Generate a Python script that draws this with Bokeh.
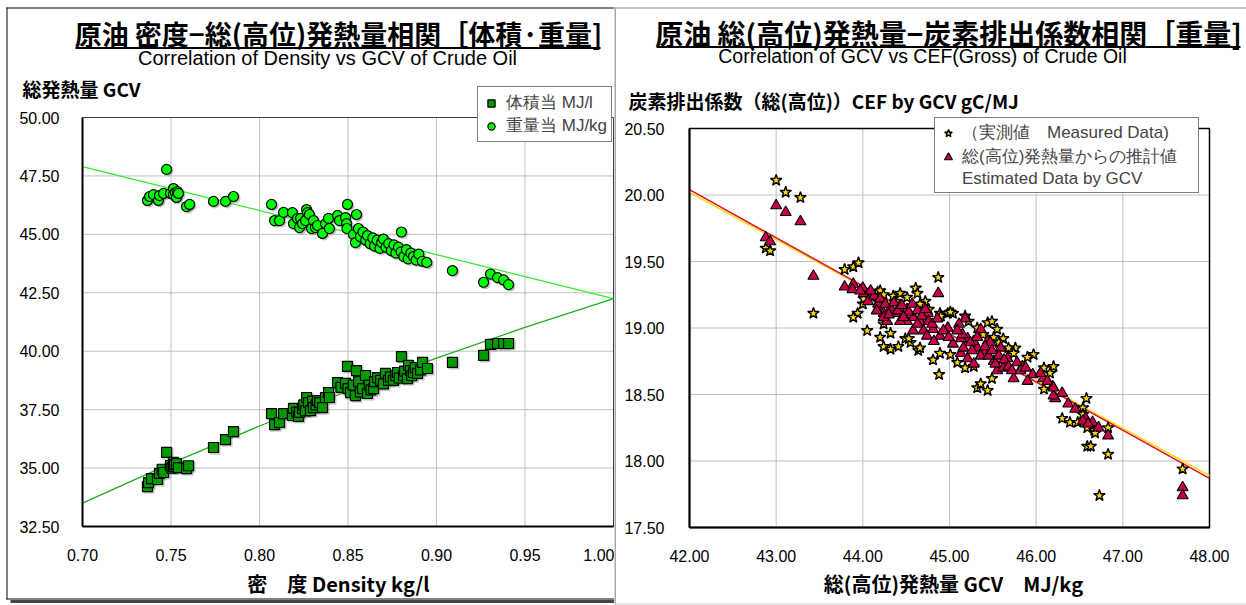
from bokeh.plotting import figure
from bokeh.layouts import row
from bokeh.models import (ColumnDataSource, FixedTicker, NumeralTickFormatter, Label,
                          Arrow, Legend, LegendItem, Range1d, LinearAxis)
from bokeh.transform import dodge
from bokeh.embed import file_html
from bokeh.resources import INLINE

JP = "Noto Sans CJK JP"
LAT = "Liberation Sans"

# ---------------- Density vs GCV (left chart) ----------------
vol_density = [0.7367, 0.7373, 0.7390, 0.7424, 0.7435, 0.7450, 0.7458, 0.7475, 0.7497, 0.7505,
               0.7514, 0.7514, 0.7520, 0.7531, 0.7542, 0.7588, 0.7599,
               0.7740, 0.7808, 0.7853,
               0.8068, 0.8085, 0.8113, 0.8136,
               0.8186, 0.8192, 0.8210, 0.8220, 0.8226, 0.8243, 0.8250, 0.8260, 0.8266, 0.8277,
               0.8288, 0.8300, 0.8305, 0.8320, 0.8328, 0.8340, 0.8356, 0.8373, 0.8390, 0.8395,
               0.8441, 0.8460, 0.8486, 0.8497, 0.8500, 0.8514, 0.8530, 0.8542, 0.8548, 0.8560,
               0.8570, 0.8582, 0.8599, 0.8610, 0.8620, 0.8630, 0.8644, 0.8650, 0.8667, 0.8684,
               0.8700, 0.8712, 0.8729, 0.8740, 0.8757, 0.8770, 0.8780, 0.8790, 0.8802, 0.8814,
               0.8820, 0.8836, 0.8842, 0.8853, 0.8860, 0.8870, 0.8880, 0.8893, 0.8910, 0.8921, 0.8949,
               0.9090, 0.9266, 0.9305, 0.9345, 0.9379, 0.9407]
vol_gcv = [34.21, 34.38, 34.55, 34.51, 34.77, 34.95, 34.81, 35.67, 35.11, 35.00,
           35.24, 35.07, 35.15, 35.19, 35.02, 34.98, 35.10,
           35.88, 36.22, 36.56,
           37.33, 36.86, 36.95, 37.33,
           37.25, 37.55, 37.40, 37.21, 37.38, 37.55, 37.70, 37.45, 38.02, 37.80,
           37.46, 37.85, 37.59, 37.70, 37.89, 37.80, 37.59, 38.02, 38.23, 38.02,
           38.66, 38.45, 38.62, 39.35, 38.40, 38.23, 38.55, 38.10, 39.17, 38.70,
           38.25, 38.40, 38.96, 38.19, 38.55, 38.35, 38.40, 38.70, 38.87, 38.75,
           38.60, 39.05, 38.75, 38.90, 38.75, 38.95, 39.09, 38.85, 39.77, 38.96,
           39.15, 38.83, 39.39, 39.17, 38.95, 39.09, 39.30, 39.05, 39.20, 39.52, 39.26,
           39.52, 39.82, 40.29, 40.33, 40.33, 40.33]

mass_density = [0.7367, 0.7379, 0.7401, 0.7429, 0.7435, 0.7458, 0.7475, 0.7497, 0.7514, 0.7514,
                0.7525, 0.7531, 0.7537, 0.7542, 0.7588, 0.7605,
                0.7740, 0.7808, 0.7853,
                0.8068, 0.8085, 0.8113, 0.8136,
                0.8186, 0.8192, 0.8215, 0.8226, 0.8232, 0.8243, 0.8260, 0.8266, 0.8271, 0.8282,
                0.8294, 0.8305, 0.8316, 0.8328, 0.8356, 0.8373, 0.8390, 0.8395,
                0.8441, 0.8452, 0.8486, 0.8492, 0.8497, 0.8494, 0.8531, 0.8542, 0.8548, 0.8559,
                0.8570, 0.8585, 0.8600, 0.8610, 0.8625, 0.8640, 0.8650, 0.8665, 0.8680, 0.8690,
                0.8700, 0.8715, 0.8730, 0.8745, 0.8760, 0.8770, 0.8785, 0.8800, 0.8802, 0.8815,
                0.8830, 0.8840, 0.8855, 0.8870, 0.8885, 0.8900, 0.8920, 0.8945,
                0.9090, 0.9266, 0.9305, 0.9345, 0.9379, 0.9407]
mass_gcv = [46.45, 46.62, 46.70, 46.45, 46.66, 46.75, 47.78, 46.75, 46.96, 46.70,
            46.79, 46.58, 46.83, 46.75, 46.19, 46.28,
            46.41, 46.41, 46.62,
            46.28, 45.59, 45.59, 45.94,
            45.93, 45.46, 45.68, 45.29, 45.68, 45.46, 45.59, 46.06, 45.93, 45.85,
            45.25, 45.59, 45.29, 45.38, 45.04, 45.46, 45.68, 45.25,
            45.81, 45.59, 45.72, 45.46, 46.28, 45.25, 44.99, 44.65, 45.85, 45.25,
            44.90, 45.10, 44.75, 44.95, 44.60, 44.85, 44.50, 44.75, 44.40, 44.65,
            44.80, 44.45, 44.60, 44.30, 44.55, 44.20, 44.45, 44.25, 45.10, 44.05,
            44.35, 43.95, 44.20, 44.05, 43.90, 44.15, 43.85, 43.80,
            43.45, 42.95, 43.30, 43.15, 43.05, 42.85]

# trend lines of the two series
trend_density = [0.70, 0.75, 0.80, 0.85, 0.90, 0.95, 1.00]
trend_vol = [33.50, 35.20, 36.80, 38.30, 39.70, 41.02, 42.25]
trend_mass = [47.90, 46.96, 46.02, 45.08, 44.13, 43.19, 42.25]

density_ticks = [0.70, 0.75, 0.80, 0.85, 0.90, 0.95, 1.00]
gcv_ticks = [32.5, 35.0, 37.5, 40.0, 42.5, 45.0, 47.5, 50.0]

# ---------------- GCV vs CEF (right chart) ----------------
measured_gcv = [43.00, 43.11, 43.28, 42.88, 42.93, 43.79, 43.89, 43.95, 43.43, 44.24, 44.17,
                44.87, 44.61, 44.63, 44.72, 44.43, 44.35, 44.20, 44.17, 43.94, 43.89,
                44.32, 44.24, 44.32, 44.41, 44.49, 44.55, 44.64, 44.81, 44.89, 44.88,
                44.89, 44.98, 45.04, 45.18, 45.18, 45.28, 45.32, 45.36, 45.44, 45.49,
                45.44, 45.49, 45.55, 45.62, 45.70, 45.76, 45.97, 46.20, 46.16, 46.09,
                46.30, 46.39, 46.48, 46.58, 46.54, 46.59, 46.67, 44.18, 44.00, 44.43, 44.70,
                46.59, 46.63, 46.83, 46.73, 47.69, 46.83, 46.68, 46.54, 44.05,
                44.01, 44.11, 44.24, 44.38, 44.51, 44.66, 44.76, 44.90, 45.01, 45.22,
                45.32, 45.39, 45.51, 45.57, 45.68, 45.74, 45.09, 45.01, 44.53, 44.66,
                44.20, 45.90, 46.09]
measured_cef = [20.11, 20.02, 19.98, 19.60, 19.58, 19.44, 19.46, 19.49, 19.11, 19.03, 19.27,
                19.38, 19.30, 19.26, 19.20, 19.26, 19.24, 19.28, 19.20, 19.11, 19.08,
                18.96, 18.86, 18.84, 18.86, 18.92, 18.89, 18.83, 18.76, 18.81, 18.65,
                19.11, 19.11, 19.11, 19.09, 18.70, 18.71, 18.55, 18.58, 18.53, 18.62,
                19.04, 19.05, 18.99, 18.92, 18.83, 18.85, 18.80, 18.71, 18.66, 18.54,
                18.32, 18.29, 18.29, 18.47, 18.40, 18.25, 18.23, 19.15, 19.18, 19.13, 19.16,
                18.11, 18.11, 18.05, 17.74, 17.94, 18.25, 18.21, 18.35, 18.98,
                19.22, 19.24, 19.25, 19.20, 19.23, 19.18, 19.14, 19.09, 19.12, 19.05,
                19.00, 18.95, 18.93, 18.89, 18.85, 18.81, 18.74, 18.80, 18.92, 18.85,
                18.93, 18.78, 18.70]

estimated_gcv = [43.00, 43.11, 43.28, 42.88, 42.93, 43.43,
                 43.79, 43.89, 44.01, 44.06, 44.18, 44.24, 44.32, 44.41, 44.51, 44.58,
                 44.66, 44.75, 44.81, 44.89, 44.98, 45.04, 44.87, 45.13, 45.18, 45.21,
                 45.28, 45.32, 45.39, 45.44, 45.51, 45.55, 45.62, 45.67, 45.74, 45.84,
                 45.96, 46.08, 46.19, 46.22, 46.30, 46.37, 46.45, 46.57, 46.65, 46.72,
                 45.21, 45.13, 45.36, 45.47, 45.28, 45.59, 44.51, 44.70, 44.28,
                 44.00, 43.88, 44.24, 44.43, 44.58,
                 46.83, 47.69, 47.69, 46.54, 46.60, 46.20,
                 44.13, 44.20, 44.26, 44.36, 44.40, 44.45, 44.53, 44.57, 44.63, 44.68,
                 44.72, 44.76, 44.80, 44.86, 44.93, 44.99, 45.11, 45.15, 45.24, 45.26,
                 45.32, 45.36, 45.41, 45.45, 45.49, 45.53, 45.57, 45.63, 45.68, 45.72,
                 45.78, 45.82, 45.88, 46.05, 46.13, 46.20, 45.90, 45.16, 45.09, 43.97,
                 44.09, 44.16, 44.30, 44.47, 44.63, 44.74, 44.82]
estimated_cef = [19.92, 19.87, 19.80, 19.68, 19.65, 19.39,
                 19.31, 19.33, 19.26, 19.20, 19.18, 19.11, 19.15, 19.11, 19.14, 19.08,
                 19.05, 19.11, 18.99, 18.94, 19.00, 18.88, 19.26, 18.81, 19.07, 18.77,
                 18.73, 18.85, 18.83, 18.90, 18.75, 18.68, 18.70, 18.77, 18.62, 18.71,
                 18.65, 18.62, 18.56, 18.47, 18.51, 18.43, 18.39, 18.32, 18.29, 18.25,
                 18.92, 18.92, 18.99, 18.89, 18.90, 18.85, 19.05, 18.98, 19.05,
                 19.30, 19.29, 19.08, 19.05, 18.98,
                 18.19, 17.80, 17.74, 18.30, 18.28, 18.49,
                 19.24, 19.22, 19.18, 19.19, 19.13, 19.17, 19.12, 19.18, 19.13, 19.09,
                 19.14, 19.05, 19.03, 19.07, 18.98, 18.93, 19.03, 18.95, 18.89, 18.83,
                 18.93, 18.79, 18.86, 18.79, 18.83, 18.73, 18.79, 18.76, 18.71, 18.68,
                 18.74, 18.68, 18.70, 18.66, 18.60, 18.55, 18.60, 18.85, 18.98, 19.28,
                 19.28, 19.13, 19.10, 19.08, 19.03, 18.94, 18.90]

cef_trend_gcv = [42.0, 48.0]
cef_trend_measured = [20.02, 17.89]
cef_trend_estimated = [20.04, 17.87]

gcv_axis_ticks = [42, 43, 44, 45, 46, 47, 48]
cef_ticks = [17.5, 18.0, 18.5, 19.0, 19.5, 20.0, 20.5]

assert len(vol_density) == len(vol_gcv)
assert len(mass_density) == len(mass_gcv)
assert len(measured_gcv) == len(measured_cef)
assert len(estimated_gcv) == len(estimated_cef)


class Panel:
    """A figure whose frame fills the whole canvas; the plot area sits inside it."""

    def __init__(self, width, height, box, xlim, ylim):
        left, right, top, bottom = box
        self.w, self.h = width, height
        self.sx = (right - left) / (xlim[1] - xlim[0])
        self.sy = (bottom - top) / (ylim[1] - ylim[0])
        self.x0 = xlim[0] - left / self.sx
        self.y0 = ylim[0] - (height - bottom) / self.sy
        self.xlim, self.ylim = xlim, ylim
        self.p = figure(width=width, height=height, output_backend="svg", toolbar_location=None,
                        x_range=Range1d(self.x0, self.x0 + width / self.sx),
                        y_range=Range1d(self.y0, self.y0 + height / self.sy),
                        x_axis_location=None, y_axis_location=None,
                        min_border=0, min_border_left=0, min_border_right=0,
                        min_border_top=0, min_border_bottom=0)
        p = self.p
        p.xgrid.visible = False
        p.ygrid.visible = False
        p.outline_line_color = None
        p.background_fill_color = "white"
        p.border_fill_color = "white"

    # pixel position inside the canvas -> data position
    def X(self, px):
        return self.x0 + px / self.sx

    def Y(self, py):
        return self.y0 + (self.h - py) / self.sy

    def axes(self, xticks, yticks, x_standoff, y_standoff):
        p = self.p
        (xa, xb), (ya, yb) = self.xlim, self.ylim
        # grid lines
        p.segment(x0=xticks, y0=[ya] * len(xticks), x1=xticks, y1=[yb] * len(xticks),
                  line_color="#c0c0c0", line_width=1)
        p.segment(x0=[xa] * len(yticks), y0=yticks, x1=[xb] * len(yticks), y1=yticks,
                  line_color="#c0c0c0", line_width=1)
        xaxis = LinearAxis(fixed_location=ya, bounds=(xa, xb), ticker=FixedTicker(ticks=xticks))
        yaxis = LinearAxis(fixed_location=xa, bounds=(ya, yb), ticker=FixedTicker(ticks=yticks))
        for ax in (xaxis, yaxis):
            ax.axis_line_color = "black"
            ax.axis_line_width = 2
            ax.major_tick_line_color = None
            ax.minor_tick_line_color = None
            ax.major_label_text_font = LAT
            ax.major_label_text_font_size = "16px"
            ax.major_label_text_color = "black"
            ax.formatter = NumeralTickFormatter(format="0.00")
        xaxis.major_label_standoff = x_standoff
        yaxis.major_label_standoff = y_standoff
        p.add_layout(xaxis, "below")
        p.add_layout(yaxis, "left")

    def frame_box(self, color, width):
        (xa, xb), (ya, yb) = self.xlim, self.ylim
        self.p.quad(left=[xa], right=[xb], bottom=[ya], top=[yb], fill_alpha=0,
                    line_color=color, line_width=width)

    def text(self, px, py, s, size, bold=False, align="center", font=JP):
        self.p.add_layout(Label(x=self.X(px), y=self.Y(py), text=s,
                                text_align=align, text_baseline="middle", text_font=font,
                                text_font_size=size,
                                text_font_style="bold" if bold else "normal",
                                text_color="black"))

    def seg(self, px0, py0, px1, py1, color="black", width=1):
        self.p.add_layout(Arrow(end=None, x_start=self.X(px0), y_start=self.Y(py0),
                                x_end=self.X(px1), y_end=self.Y(py1),
                                line_color=color, line_width=width))

    def shadow(self, source, marker, size):
        # soft drop shadow, 1.5 px down-right of every marker
        self.p.scatter(x=dodge("x", 1.5 / self.sx), y=dodge("y", -1.5 / self.sy),
                       source=source, marker=marker, size=size + 1,
                       fill_color="#909090", fill_alpha=0.55, line_color=None)


# ---------- left panel ----------
L = Panel(614, 605, (82, 613, 117, 526), (0.70, 1.00), (32.5, 50.0))
p1 = L.p
L.axes(density_ticks, gcv_ticks, 16, 17)
L.frame_box("#404040", 1)

p1.line(trend_density, trend_mass, line_color="#33ee33", line_width=1.3)
p1.line(trend_density, trend_vol, line_color="#22aa22", line_width=1.3)
src_vol = ColumnDataSource(dict(x=vol_density, y=vol_gcv))
src_mass = ColumnDataSource(dict(x=mass_density, y=mass_gcv))
L.shadow(src_vol, "square", 10)
L.shadow(src_mass, "circle", 10)
r_vol = p1.scatter("x", "y", source=src_vol, marker="square", size=10,
                   fill_color="#009900", line_color="black", line_width=1.2)
r_mass = p1.scatter("x", "y", source=src_mass, marker="circle", size=10,
                    fill_color="#00ff00", line_color="black", line_width=1.2)

leg1 = Legend(items=[LegendItem(label="体積当 MJ/l", renderers=[r_vol]),
                     LegendItem(label="重量当 MJ/kg", renderers=[r_mass])],
              location=(477, 605 - 142), margin=0, padding=4, spacing=0,
              glyph_width=18, glyph_height=18, label_standoff=6, label_height=18,
              label_text_font=LAT, label_text_font_size="17px",
              border_line_color="black", border_line_width=1,
              background_fill_color="white", background_fill_alpha=1)
p1.add_layout(leg1)

L.text(338, 33, "原油 密度−総(高位)発熱量相関［体積·重量]", "27px", bold=True)
L.seg(75, 47.5, 600, 47.5, width=2)
L.text(327, 57, "Correlation of Density vs GCV of Crude Oil", "20px", font=LAT)
L.text(22, 88, "総発熱量 GCV", "19px", bold=True, align="left")
L.text(338, 583, "密　度 Density kg/l", "20px", bold=True)

# outer frame of the left chart
L.seg(6, 7.5, 614, 7.5)
L.seg(6.5, 7, 6.5, 599)
L.seg(6, 598.5, 614, 598.5)
L.seg(10, 601, 614, 601, color="#444444", width=3)

# ---------- right panel ----------
R = Panel(632, 605, (75, 595, 128, 527), (42.0, 48.0), (17.5, 20.5))
p2 = R.p
R.axes(gcv_axis_ticks, cef_ticks, 16, 19)
R.frame_box("black", 1.5)

p2.line(cef_trend_gcv, cef_trend_measured, line_color="#ffd700", line_width=1.5)
p2.line(cef_trend_gcv, cef_trend_estimated, line_color="#dd1030", line_width=1.5)
src_meas = ColumnDataSource(dict(x=measured_gcv, y=measured_cef))
src_est = ColumnDataSource(dict(x=estimated_gcv, y=estimated_cef))
r_meas = p2.scatter("x", "y", source=src_meas, marker="star", size=12,
                    fill_color="#ffd700", line_color="black", line_width=1.4)
r_est = p2.scatter("x", "y", source=src_est, marker="triangle", size=11,
                   fill_color="#c8004a", line_color="black", line_width=1.1)
r_blank = p2.scatter(x=[], y=[], marker="triangle", fill_alpha=0, line_alpha=0)

leg2 = Legend(items=[LegendItem(label="（実測値　Measured Data)", renderers=[r_meas]),
                     LegendItem(label="総(高位)発熱量からの推計値", renderers=[r_est]),
                     LegendItem(label="Estimated Data by GCV", renderers=[r_blank])],
              location=(320, 605 - 193), margin=0, padding=3, spacing=1,
              glyph_width=20, glyph_height=20, label_standoff=4, label_height=18,
              label_width=233,
              label_text_font=LAT, label_text_font_size="17px",
              border_line_color="black", border_line_width=1,
              background_fill_color="white", background_fill_alpha=1)
p2.add_layout(leg2)

R.text(334, 32, "原油 総(高位)発熱量−炭素排出係数相関［重量]", "28px", bold=True)
R.seg(42, 46.5, 626, 46.5, width=2)
R.text(308, 55, "Correlation of GCV vs CEF(Gross) of Crude Oil", "19.5px", font=LAT)
R.text(14, 100, "炭素排出係数（総(高位)）CEF by GCV gC/MJ", "19px", bold=True, align="left")
R.text(339, 583, "総(高位)発熱量 GCV　MJ/kg", "20px", bold=True)

R.seg(0.5, 7, 0.5, 604, color="#555555")
R.seg(0, 7.5, 632, 7.5, color="#888888")
R.seg(0, 603.5, 632, 603.5, color="#cccccc")

layout = row(p1, p2)
open("out.html", "w").write(file_html(layout, INLINE))
